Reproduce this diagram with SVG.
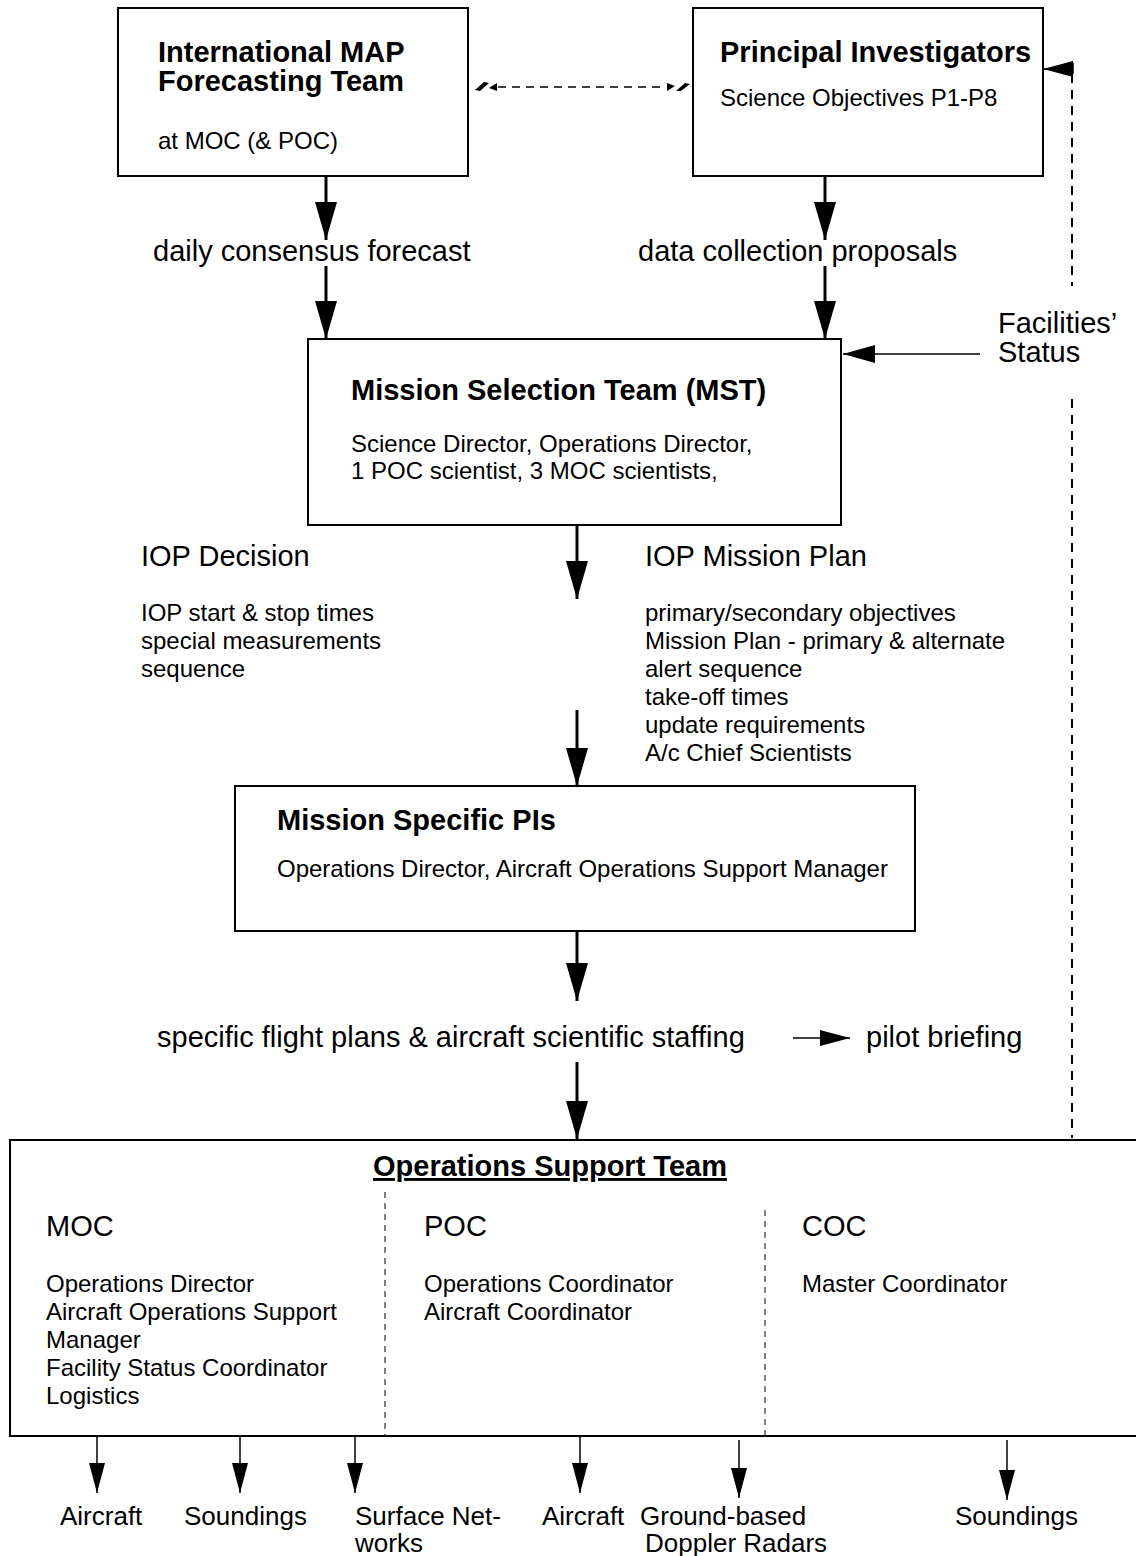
<svg xmlns="http://www.w3.org/2000/svg" width="1136" height="1556" viewBox="0 0 1136 1556">
<style>
.box{fill:#fff;stroke:#000;stroke-width:2}
text{font-family:"Liberation Sans",Arial,Helvetica,sans-serif;fill:#000}
.title{font-size:29px;font-weight:bold}
.sub{font-size:24px}
.lab{font-size:29px}
.bot{font-size:26px}
.conn{stroke:#000;stroke-width:3;fill:none}
.thin{stroke:#000;stroke-width:1.5;fill:none}
.dash{stroke:#000;stroke-width:2;fill:none;stroke-dasharray:9 7}
.div{stroke:#000;stroke-width:1;fill:none;stroke-dasharray:6 5}
</style>
<defs>
<marker id="big" markerUnits="userSpaceOnUse" viewBox="0 0 38 22" refX="38" refY="11" markerWidth="38" markerHeight="22" orient="auto"><path d="M0,0 L38,11 L0,22 Z" fill="#000"/></marker>
<marker id="mid" markerUnits="userSpaceOnUse" viewBox="0 0 32 18" refX="32" refY="9" markerWidth="32" markerHeight="18" orient="auto"><path d="M0,0 L32,9 L0,18 Z" fill="#000"/></marker>
<marker id="small" markerUnits="userSpaceOnUse" viewBox="0 0 30 16" refX="30" refY="8" markerWidth="30" markerHeight="16" orient="auto"><path d="M0,0 L30,8 L0,16 Z" fill="#000"/></marker>
</defs>
<rect width="1136" height="1556" fill="#fff"/>

<g id="imft">
<rect class="box" x="118" y="8" width="350" height="168"/>
<text class="title" x="158" y="62">International MAP</text>
<text class="title" x="158" y="91">Forecasting Team</text>
<text class="sub" x="158" y="149">at MOC (&amp; POC)</text>
</g>

<g id="pi">
<rect class="box" x="693" y="8" width="350" height="168"/>
<text class="title" x="720" y="62">Principal Investigators</text>
<text class="sub" x="720" y="106">Science Objectives P1-P8</text>
</g>

<g id="mst">
<rect class="box" x="308" y="339" width="533" height="186"/>
<text class="title" x="351" y="400">Mission Selection Team (MST)</text>
<text class="sub" x="351" y="452">Science Director, Operations Director,</text>
<text class="sub" x="351" y="479">1 POC scientist, 3 MOC scientists,</text>
</g>

<g id="mspi">
<rect class="box" x="235" y="786" width="680" height="145"/>
<text class="title" x="277" y="830">Mission Specific PIs</text>
<text class="sub" x="277" y="877">Operations Director, Aircraft Operations Support Manager</text>
</g>

<g id="ost">
<rect class="box" x="10" y="1140" width="1140" height="296"/>
<text class="title" x="373" y="1176" text-decoration="underline">Operations Support Team</text>
<text class="lab" x="46" y="1236">MOC</text>
<text class="lab" x="424" y="1236">POC</text>
<text class="lab" x="802" y="1236">COC</text>
<text class="sub" x="46" y="1292">Operations Director</text>
<text class="sub" x="46" y="1320">Aircraft Operations Support</text>
<text class="sub" x="46" y="1348">Manager</text>
<text class="sub" x="46" y="1376">Facility Status Coordinator</text>
<text class="sub" x="46" y="1404">Logistics</text>
<text class="sub" x="424" y="1292">Operations Coordinator</text>
<text class="sub" x="424" y="1320">Aircraft Coordinator</text>
<text class="sub" x="802" y="1292">Master Coordinator</text>
<path class="div" d="M385,1192 V1436 M765,1210 V1436"/>
</g>

<g id="labels">
<text class="lab" x="153" y="261">daily consensus forecast</text>
<text class="lab" x="638" y="261">data collection proposals</text>
<text class="lab" x="998" y="333">Facilities’</text>
<text class="lab" x="998" y="362">Status</text>
<text class="lab" x="141" y="566">IOP Decision</text>
<text class="sub" x="141" y="621">IOP start &amp; stop times</text>
<text class="sub" x="141" y="649">special measurements</text>
<text class="sub" x="141" y="677">sequence</text>
<text class="lab" x="645" y="566">IOP Mission Plan</text>
<text class="sub" x="645" y="621">primary/secondary objectives</text>
<text class="sub" x="645" y="649">Mission Plan - primary &amp; alternate</text>
<text class="sub" x="645" y="677">alert sequence</text>
<text class="sub" x="645" y="705">take-off times</text>
<text class="sub" x="645" y="733">update requirements</text>
<text class="sub" x="645" y="761">A/c Chief Scientists</text>
<text class="lab" x="157" y="1047">specific flight plans &amp; aircraft scientific staffing</text>
<text class="lab" x="866" y="1047">pilot briefing</text>
<text class="bot" x="60" y="1525">Aircraft</text>
<text class="bot" x="184" y="1525">Soundings</text>
<text class="bot" x="355" y="1525">Surface Net-</text>
<text class="bot" x="355" y="1552">works</text>
<text class="bot" x="542" y="1525">Aircraft</text>
<text class="bot" x="640" y="1525">Ground-based</text>
<text class="bot" x="645" y="1552">Doppler Radars</text>
<text class="bot" x="955" y="1525">Soundings</text>
</g>

<g id="connectors">
<path class="conn" d="M326,176 V240" marker-end="url(#big)"/>
<path class="conn" d="M326,266 V339" marker-end="url(#big)"/>
<path class="conn" d="M825,176 V240" marker-end="url(#big)"/>
<path class="conn" d="M825,266 V339" marker-end="url(#big)"/>
<path class="conn" d="M577,525 V599" marker-end="url(#big)"/>
<path class="conn" d="M577,710 V786" marker-end="url(#big)"/>
<path class="conn" d="M577,931 V1001" marker-end="url(#big)"/>
<path class="conn" d="M577,1062 V1139" marker-end="url(#big)"/>
<path class="thin" d="M980,354 H843" marker-end="url(#mid)"/>
<path class="thin" d="M793,1038 H850" marker-end="url(#small)"/>
<path class="thin" d="M1072,69 H1043" marker-end="url(#small)"/>
<path class="thin" d="M1073,63 V74"/>
<path class="dash" d="M1072,74 V286"/>
<path class="dash" d="M1072,399 V1138"/>
<path class="thin" stroke-dasharray="8 6" d="M498,87 H664"/>
<polygon points="475,90 484,82 489,83 480,91" fill="#000"/>
<polygon points="489,88 497,83 497,91" fill="#000"/>
<polygon points="690,84 681,91 676,91 685,83" fill="#000"/>
<polygon points="675,86 667,91 667,83" fill="#000"/>
<path class="thin" d="M97,1436 V1493" marker-end="url(#small)"/>
<path class="thin" d="M240,1436 V1493" marker-end="url(#small)"/>
<path class="thin" d="M355,1436 V1493" marker-end="url(#small)"/>
<path class="thin" d="M580,1436 V1493" marker-end="url(#small)"/>
<path class="thin" d="M739,1440 V1498" marker-end="url(#small)"/>
<path class="thin" d="M1007,1440 V1500" marker-end="url(#small)"/>
</g>
</svg>
